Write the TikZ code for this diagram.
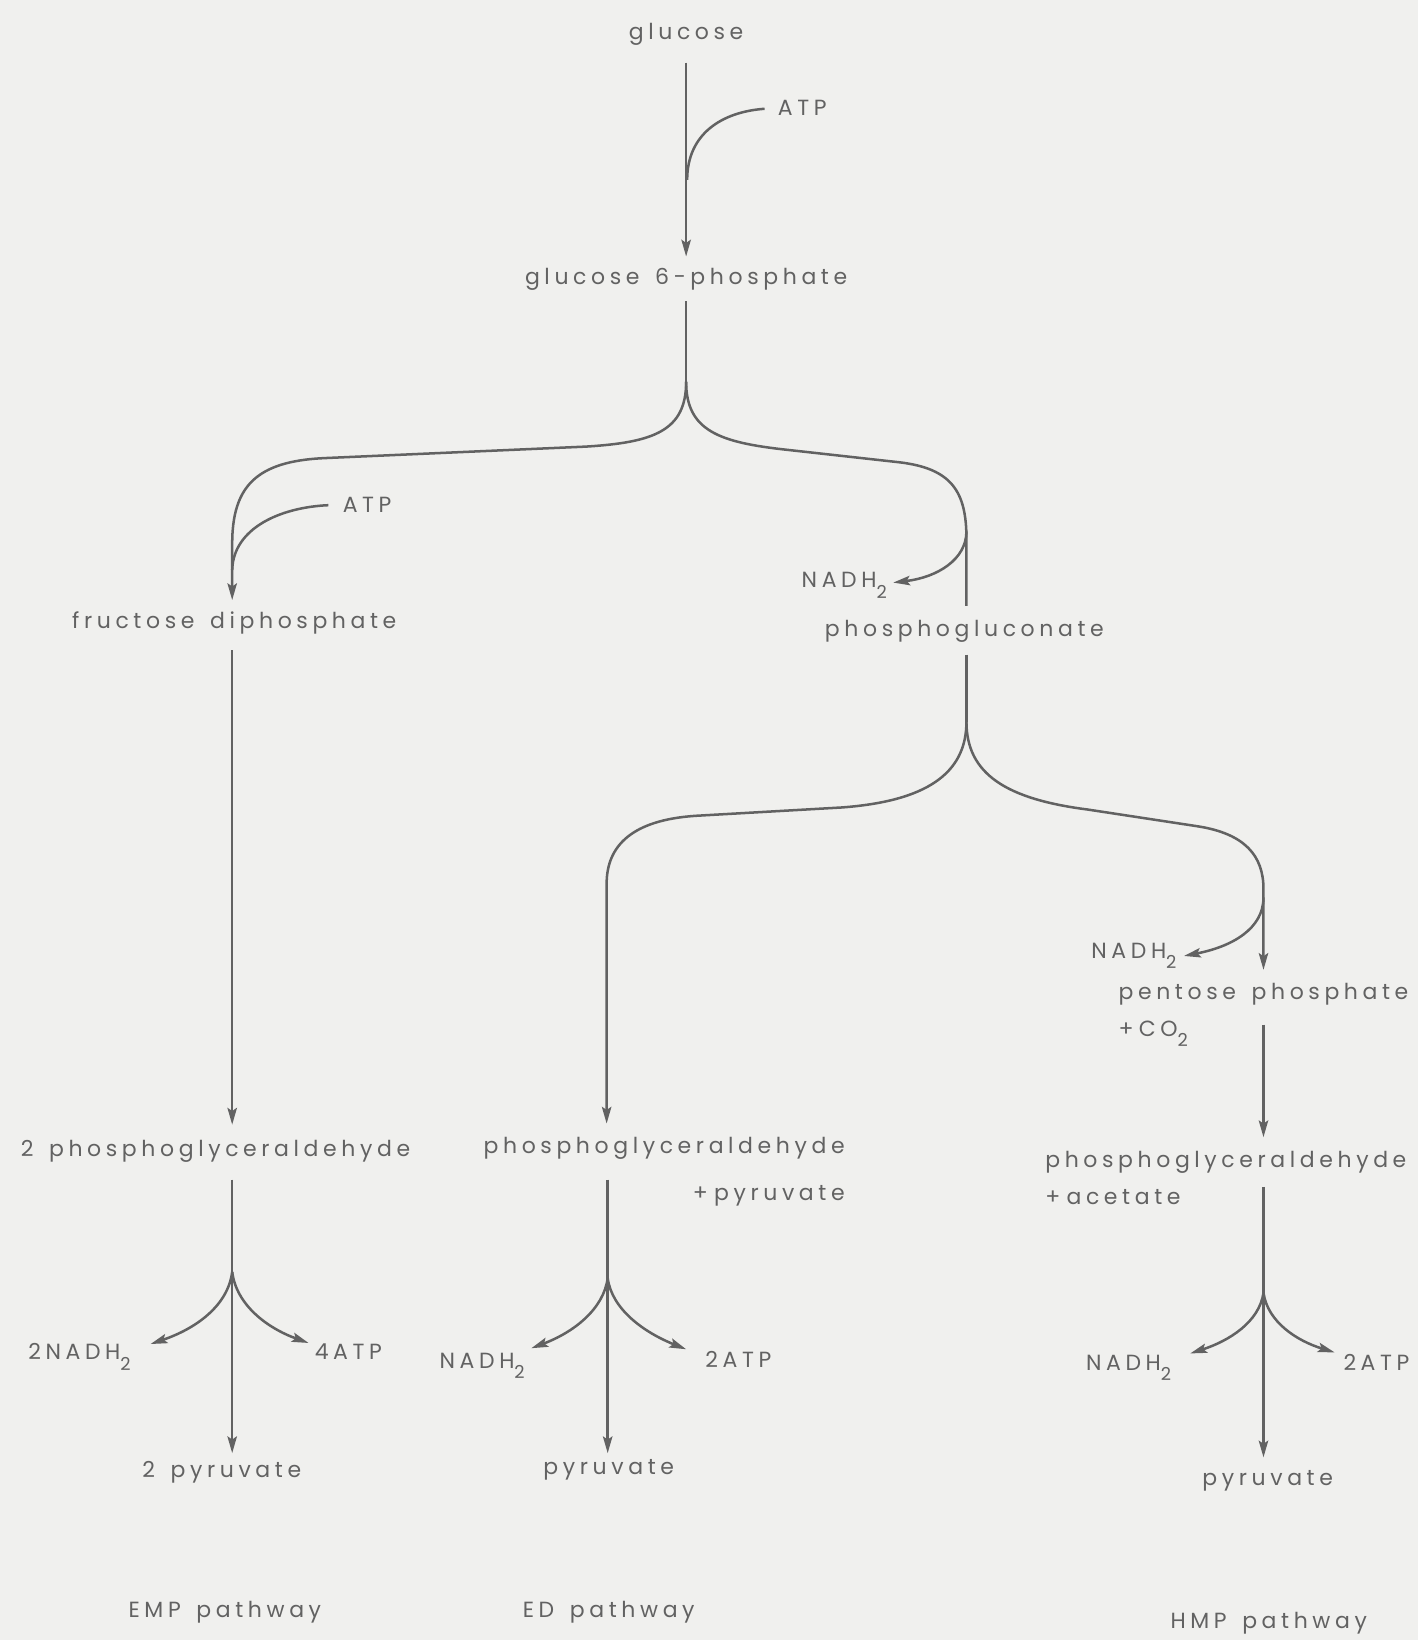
\documentclass[tikz,border=0pt]{standalone}
\usepackage{fontspec}
\setmainfont{Poppins}[LetterSpace=21,WordSpace=1.5]
\usetikzlibrary{arrows.meta}
\definecolor{tinta}{RGB}{98,98,98}
\definecolor{papel}{RGB}{240,240,238}
\newcommand{\indice}[1]{\raisebox{-10pt}{\fontsize{17}{17}\selectfont #1}}

\begin{document}
\begin{tikzpicture}[x=1pt, y=-1pt,
        rotulo/.style={text=tinta, inner sep=0pt, anchor=base, font=\fontsize{21}{24}\selectfont},
        linha/.style={draw=tinta, line width=2.4pt},
        seta/.style={linha, -{Stealth[length=16pt, width=9pt, inset=3pt]}},
    ]
    \fill[papel] (0,0) rectangle (1356,1568);
    \useasboundingbox (0,0) rectangle (1356,1568);

    % colunas
    \coordinate (xg) at (656,0);
    \coordinate (xemp) at (222,0);
    \coordinate (xpg) at (924,0);
    \coordinate (xed) at (580,0);
    \coordinate (xhmp) at (1208,0);

    % textos
    \node[rotulo] (glc) at (656,38) {glucose};
    \node[rotulo] (atpa) at (767,110) {ATP};
    \node[rotulo] (g6p) at (656,272) {glucose 6-phosphate};
    \node[rotulo] (atpb) at (351,490) {ATP};
    \node[rotulo] (fdp) at (224,601) {fructose diphosphate};
    \node[rotulo, anchor=base east] (nada) at (848,562) {NADH\indice{2}};
    \node[rotulo] (pgl) at (922,609) {phosphogluconate};
    \node[rotulo, anchor=base east] (nadb) at (1125,916) {NADH\indice{2}};
    \node[rotulo] (pent) at (1208,956) {pentose phosphate};
    \node[rotulo, anchor=base west] (co2) at ([yshift=-35pt]pent.base west) {+\hspace{5pt}CO\indice{2}};

    \node[rotulo] (pgae) at (206,1106) {2 phosphoglyceraldehyde};
    \node[rotulo] (pgad) at (635,1103) {phosphoglyceraldehyde};
    \node[rotulo, anchor=base east] (pyra) at ([yshift=-45pt]pgad.base east) {+\hspace{6pt}pyruvate};
    \node[rotulo] (pgah) at (1172,1116) {phosphoglyceraldehyde};
    \node[rotulo, anchor=base west] (acet) at ([yshift=-36pt]pgah.base west) {+\hspace{6pt}acetate};

    \node[rotulo] (nadc) at (76,1300) {2NADH\indice{2}};
    \node[rotulo] (atpc) at (333,1300) {4ATP};
    \node[rotulo] (pyre) at (212,1413) {2 pyruvate};
    \node[rotulo] (nadd) at (461,1308) {NADH\indice{2}};
    \node[rotulo] (atpd) at (706,1307) {2ATP};
    \node[rotulo] (pyrd) at (582,1410) {pyruvate};
    \node[rotulo] (nade) at (1079,1310) {NADH\indice{2}};
    \node[rotulo] (atpe) at (1316,1310) {2ATP};
    \node[rotulo] (pyrh) at (1212,1420) {pyruvate};

    \node[rotulo] (emp) at (215,1546) {EMP pathway};
    \node[rotulo] (ed) at (582,1546) {ED pathway};
    \node[rotulo] (hmp) at (1213,1557) {HMP pathway};

    % pontos de juncao
    \coordinate (ka) at (731,104);
    \coordinate (kb) at (314,483);
    \coordinate (s1) at (656,365);
    \coordinate (ja) at (924,508);
    \coordinate (na) at (854,557);
    \coordinate (s2) at (924,690);
    \coordinate (jb) at (1208,858);
    \coordinate (nb) at (1132,914);
    \coordinate (s3) at (222,1216);
    \coordinate (l3) at (144,1285);
    \coordinate (r3) at (295,1284);
    \coordinate (s4) at (581,1222);
    \coordinate (l4) at (508,1289);
    \coordinate (r4) at (656,1290);
    \coordinate (s5) at (1208,1236);
    \coordinate (l5) at (1138,1294);
    \coordinate (r5) at (1276,1293);

    % glucose
    \draw[seta, shorten <=16pt, shorten >=11pt] (glc.south) -- (g6p.north);
    \draw[linha] (ka) .. controls (690,107) and (657,128) .. (657,172);

    % primeira bifurcacao
    \draw[linha, shorten <=10pt] (g6p.south) -- (s1);
    \draw[seta, shorten >=11pt] (s1) .. controls (656,412) and (625,423) .. (560,427)
        -- (310,438) .. controls (245,441) and (222,465) .. (222,520) -- (fdp.north -| xemp);
    \draw[linha] (kb) .. controls (268,485) and (223,505) .. (222,545);
    \draw[linha, shorten >=14pt] (s1) .. controls (656,412) and (688,423) .. (752,430)
        -- (860,442) .. controls (910,448) and (924,470) .. (924,515) -- (pgl.north -| xpg);
    \draw[seta] (ja) .. controls (924,535) and (896,552) .. (na);

    % segunda bifurcacao
    \draw[linha, shorten <=11pt] (pgl.south -| xpg) -- (s2);
    \draw[seta, shorten >=13pt] (s2) .. controls (924,740) and (885,766) .. (805,772)
        -- (665,780) .. controls (605,784) and (580,808) .. (580,845) -- (pgad.north -| xed);
    \draw[seta, shorten >=13pt] (s2) .. controls (924,740) and (962,764) .. (1040,774)
        -- (1145,790) .. controls (1190,797) and (1208,818) .. (1208,850) -- (pent.north -| xhmp);
    \draw[seta] (jb) .. controls (1208,888) and (1178,905) .. (nb);
    \draw[seta, shorten <=18pt, shorten >=13pt] (pent.south -| xhmp) -- (pgah.north -| xhmp);

    % EMP
    \draw[seta, shorten <=15pt, shorten >=15pt] (fdp.south -| xemp) -- (pgae.north -| xemp);
    \draw[linha, shorten <=16pt] (pgae.south -| xemp) -- (s3);
    \draw[seta, shorten >=8pt] (s3) -- (pyre.north -| xemp);
    \draw[seta] (s3) .. controls (218,1248) and (188,1270) .. (l3);
    \draw[seta] (s3) .. controls (226,1248) and (256,1270) .. (r3);

    % ED
    \draw[linha, shorten <=19pt] (pgad.south -| s4) -- (s4);
    \draw[seta, shorten >=6pt] (s4) -- (pyrd.north -| s4);
    \draw[seta] (s4) .. controls (577,1252) and (548,1274) .. (l4);
    \draw[seta] (s4) .. controls (585,1252) and (616,1274) .. (r4);

    % HMP
    \draw[linha, shorten <=13pt] (pgah.south -| s5) -- (s5);
    \draw[seta, shorten >=12pt] (s5) -- (pyrh.north -| s5);
    \draw[seta] (s5) .. controls (1204,1264) and (1175,1282) .. (l5);
    \draw[seta] (s5) .. controls (1212,1264) and (1240,1282) .. (r5);
\end{tikzpicture}
\end{document}
